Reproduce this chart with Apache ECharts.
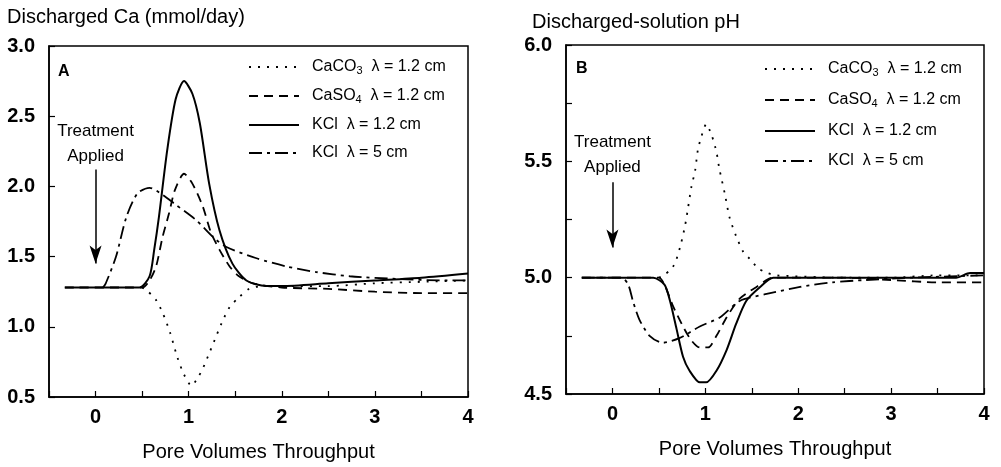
<!DOCTYPE html>
<html>
<head>
<meta charset="utf-8">
<script src="https://cdn.jsdelivr.net/npm/echarts@6/dist/echarts.min.js"></script>
<style>
  html, body { margin: 0; padding: 0; background: #fff; }
  #chart { width: 1001px; height: 467px; }
</style>
</head>
<body>
<div id="chart"></div>
<script>
// panel A: discharged Ca (mmol/day) vs pore volumes
const caco3A = [[0.5,1.28],[0.55,1.26],[0.65,1.19],[0.72,1.1],[0.8,0.96],[0.88,0.78],[0.95,0.66],[1.03,0.58],[1.1,0.64],[1.15,0.7],[1.22,0.81],[1.3,0.94],[1.37,1.05],[1.44,1.14],[1.54,1.21],[1.65,1.27],[1.8,1.29],[2.0,1.29],[2.5,1.29],[3.0,1.31],[3.5,1.32],[4.0,1.33]]
const caso4A = [[-0.33,1.28],[0.5,1.28],[0.58,1.33],[0.65,1.43],[0.72,1.64],[0.79,1.81],[0.85,1.97],[0.95,2.09],[1.04,2.02],[1.15,1.86],[1.24,1.67],[1.33,1.55],[1.44,1.43],[1.54,1.36],[1.69,1.31],[2.0,1.28],[2.5,1.27],[3.0,1.25],[3.5,1.24],[4.0,1.24]]
const kcl12A = [[-0.33,1.28],[0.47,1.28],[0.58,1.36],[0.63,1.55],[0.68,1.78],[0.77,2.26],[0.86,2.62],[0.95,2.75],[1.04,2.66],[1.12,2.45],[1.22,2.02],[1.33,1.69],[1.47,1.45],[1.62,1.33],[1.83,1.29],[2.0,1.29],[2.5,1.31],[3.0,1.33],[3.5,1.35],[4.0,1.38]]
const kcl5A = [[0.08,1.28],[0.11,1.31],[0.22,1.5],[0.33,1.78],[0.45,1.95],[0.58,1.99],[0.72,1.94],[0.86,1.87],[1.08,1.76],[1.26,1.64],[1.4,1.57],[1.72,1.49],[2.05,1.43],[2.37,1.39],[2.73,1.36],[3.27,1.34],[3.77,1.33],[4.0,1.33]]

// panel B: discharged-solution pH
const caco3B = [[0.5,5.0],[0.55,5.01],[0.64,5.04],[0.69,5.08],[0.74,5.15],[0.78,5.22],[0.81,5.29],[0.85,5.39],[0.89,5.46],[0.92,5.55],[0.96,5.61],[1.01,5.66],[1.07,5.61],[1.12,5.54],[1.15,5.47],[1.21,5.36],[1.26,5.26],[1.33,5.18],[1.41,5.11],[1.48,5.08],[1.57,5.04],[1.67,5.02],[1.76,5.01],[2.5,5.0],[3.0,5.0],[3.5,5.01],[4.0,5.01]]
const caso4B = [[-0.33,5.0],[0.5,5.0],[0.56,4.97],[0.65,4.88],[0.76,4.79],[0.85,4.73],[0.94,4.7],[1.03,4.7],[1.12,4.75],[1.23,4.83],[1.37,4.91],[1.55,4.96],[1.73,5.0],[2.5,5.0],[3.0,4.99],[3.5,4.98],[4.0,4.98]]
const kcl12B = [[-0.33,5.0],[0.44,5.0],[0.56,4.97],[0.62,4.9],[0.69,4.78],[0.76,4.66],[0.83,4.6],[0.94,4.55],[1.01,4.55],[1.12,4.6],[1.23,4.69],[1.33,4.8],[1.44,4.9],[1.59,4.96],[1.73,5.0],[2.5,5.0],[3.0,5.0],[3.7,5.0],[3.85,5.02],[4.0,5.02]]
const kcl5B = [[-0.33,5.0],[0.1,5.0],[0.17,4.97],[0.22,4.9],[0.29,4.82],[0.4,4.75],[0.54,4.72],[0.72,4.74],[0.94,4.79],[1.16,4.83],[1.37,4.9],[1.66,4.93],[2.02,4.96],[2.37,4.98],[2.73,4.99],[3.2,5.0],[4.0,5.01]]

const seriesNames = ['CaCO3 λ = 1.2 cm', 'CaSO4 λ = 1.2 cm', 'KCl λ = 1.2 cm', 'KCl λ = 5 cm']
const legendText = {
  'CaCO3 λ = 1.2 cm': '{t|CaCO}{s|3}{t|  λ = 1.2 cm}',
  'CaSO4 λ = 1.2 cm': '{t|CaSO}{s|4}{t|  λ = 1.2 cm}',
  'KCl λ = 1.2 cm': '{t|KCl  λ = 1.2 cm}',
  'KCl λ = 5 cm': '{t|KCl  λ = 5 cm}'
}

const FONT = '"Liberation Sans", Arial, sans-serif'
const lineStyles = [
  { type: [2, 7], width: 1.8 },
  { type: [9, 6], width: 1.8 },
  { type: 'solid', width: 2 },
  { type: [13, 5, 3, 5], width: 1.8 }
]

const chart = echarts.init(document.getElementById('chart'))

const makeLegend = (left, top, gap) => ({
  orient: 'vertical',
  left: left,
  top: top,
  itemWidth: 50,
  itemHeight: 12,
  itemGap: gap,
  selectedMode: false,
  data: seriesNames,
  itemStyle: { color: 'transparent', borderWidth: 0 },
  formatter: name => legendText[name],
  textStyle: {
    padding: [0, 0, 0, 8],
    rich: {
      t: { fontFamily: FONT, fontSize: 16, color: '#000', lineHeight: 18 },
      s: { fontFamily: FONT, fontSize: 11, color: '#000', lineHeight: 10, verticalAlign: 'bottom', padding: [6, 0, 0, 0] }
    }
  }
})

const xAxisBase = gridIndex => ({
  type: 'value',
  gridIndex: gridIndex,
  min: -0.5,
  max: 4,
  interval: 0.5,
  name: 'Pore Volumes Throughput',
  nameLocation: 'middle',
  nameGap: 45,
  nameTextStyle: { fontFamily: FONT, fontSize: 20, color: '#000' },
  axisLine: { onZero: false, lineStyle: { color: '#000', width: 1.5 } },
  axisTick: { inside: true, length: 6, lineStyle: { color: '#000', width: 1.2 } },
  axisLabel: {
    fontFamily: FONT, fontSize: 20, fontWeight: 'bold', color: '#000', margin: 10,
    formatter: v => Number.isInteger(v) ? String(v) : ''
  },
  splitLine: { show: false }
})

const yAxisBase = (gridIndex, min, max, interval) => ({
  type: 'value', gridIndex: gridIndex, min: min, max: max, interval: interval,
  axisLine: { show: true, onZero: false, lineStyle: { color: '#000', width: 1.5 } },
  axisTick: { inside: true, length: 6, lineStyle: { color: '#000', width: 1.2 } },
  axisLabel: {
    fontFamily: FONT, fontSize: 20, fontWeight: 'bold', color: '#000', margin: 14,
    formatter: v => (Math.abs(v * 2 - Math.round(v * 2)) < 1e-6) ? v.toFixed(1) : ''
  },
  splitLine: { show: false }
})

const makeSeries = (data, i, xIdx, extra) => Object.assign({
  name: seriesNames[i],
  type: 'line',
  xAxisIndex: xIdx,
  yAxisIndex: xIdx,
  data: data,
  symbol: 'none',
  smooth: 0.25,
  color: '#000',
  lineStyle: Object.assign({ color: '#000' }, lineStyles[i]),
  z: 3
}, extra || {})

const treatment = (textY, arrowFrom, arrowTo) => ({
  markLine: {
    silent: true,
    symbol: ['none', 'arrow'],
    symbolSize: [9, 18],
    label: { show: false },
    itemStyle: { color: '#000' },
    lineStyle: { color: '#000', type: 'solid', width: 1.5 },
    data: [[{ coord: [0, arrowFrom] }, { coord: [0, arrowTo] }]]
  },
  markPoint: {
    silent: true,
    symbol: 'circle',
    symbolSize: 1,
    itemStyle: { color: 'transparent' },
    label: {
      show: true, position: 'inside', formatter: 'Treatment\nApplied',
      fontFamily: FONT, fontSize: 17, lineHeight: 25, color: '#000'
    },
    data: [{ coord: [0, textY] }]
  }
})

const option = {
  backgroundColor: '#fff',
  animation: false,
  title: [
    { text: 'Discharged Ca (mmol/day)', left: 2, top: 2, textStyle: { fontFamily: FONT, fontSize: 20, fontWeight: 'normal', color: '#000' } },
    { text: 'Discharged-solution pH', left: 527, top: 7, textStyle: { fontFamily: FONT, fontSize: 20, fontWeight: 'normal', color: '#000' } },
    { text: 'A', left: 53, top: 59, textStyle: { fontFamily: FONT, fontSize: 16, fontWeight: 'bold', color: '#000' } },
    { text: 'B', left: 571, top: 56, textStyle: { fontFamily: FONT, fontSize: 16, fontWeight: 'bold', color: '#000' } }
  ],
  legend: [makeLegend(243, 54, 12), makeLegend(759, 56, 14)],
  grid: [
    { left: 49, right: 533, top: 46, bottom: 70, show: true, borderColor: '#000', borderWidth: 1.5 },
    { left: 566, right: 17, top: 45, bottom: 73, show: true, borderColor: '#000', borderWidth: 1.5 }
  ],
  xAxis: [xAxisBase(0), xAxisBase(1)],
  yAxis: [yAxisBase(0, 0.5, 3.0, 0.5), yAxisBase(1, 4.5, 6.0, 0.25)],
  series: [
    makeSeries(caco3A, 0, 0),
    makeSeries(caso4A, 1, 0),
    makeSeries(kcl12A, 2, 0, treatment(2.3, 2.12, 1.45)),
    makeSeries(kcl5A, 3, 0),
    makeSeries(caco3B, 0, 1),
    makeSeries(caso4B, 1, 1),
    makeSeries(kcl12B, 2, 1, treatment(5.53, 5.41, 5.13)),
    makeSeries(kcl5B, 3, 1)
  ]
}

chart.setOption(option)
</script>
</body>
</html>
